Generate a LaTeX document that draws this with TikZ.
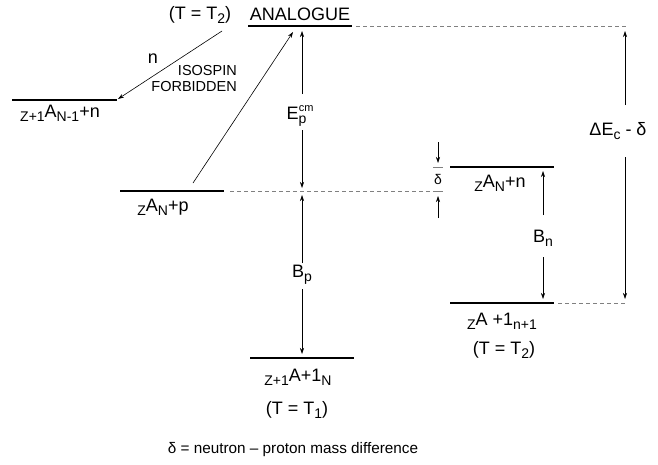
\documentclass[tikz,border=0pt]{standalone}
\usepackage{fontspec}
\setmainfont{Liberation Sans}
\usetikzlibrary{arrows.meta}
\newcommand{\lsub}[1]{\raisebox{-0.45ex}{\fontsize{14}{14}\selectfont #1}}
\newcommand{\lsup}[1]{\raisebox{0.9ex}{\fontsize{11}{11}\selectfont #1}}
\begin{document}
\begin{tikzpicture}[x=1pt,y=-1pt,
  level/.style={line width=2pt},
  dashline/.style={gray, line width=0.7pt, dash pattern=on 4pt off 3pt},
  arr/.style={line width=0.6pt, -{Stealth[length=6pt,width=4pt]}},
  lbl/.style={font=\fontsize{18}{20}\selectfont, inner sep=1pt},
  small/.style={font=\fontsize{14}{17}\selectfont, inner sep=1pt}]
\useasboundingbox (0,0) rectangle (658,464);
% levels
\coordinate (anL) at (248,26);  \coordinate (anR) at (352,26);
\coordinate (lfL) at (12,100);  \coordinate (lfR) at (117,100);
\coordinate (pL) at (120,191);  \coordinate (pR) at (224,191);
\coordinate (gL) at (250,358);  \coordinate (gR) at (354,358);
\coordinate (nL) at (450,167);  \coordinate (nR) at (554,167);
\coordinate (hL) at (450,303);  \coordinate (hR) at (554,303);
\draw[level] (anL) -- (anR);
\draw[level] (lfL) -- (lfR);
\draw[level] (pL) -- (pR);
\draw[level] (gL) -- (gR);
\draw[level] (nL) -- (nR);
\draw[level] (hL) -- (hR);
% dashed extensions
\coordinate (anD1) at (356,26); \coordinate (anD2) at (628,26);
\coordinate (pD1) at (230,191); \coordinate (pD2) at (433,191);
\coordinate (hD1) at (558,303); \coordinate (hD2) at (626,303);
\draw[dashline] (anD1) -- (anD2);
\draw[dashline] (pD1) -- (pD2);
\draw[dashline] (hD1) -- (hD2);
% delta marks
\coordinate (dt1) at (433,167); \coordinate (dt2) at (443,167);
\coordinate (db1) at (433,191); \coordinate (db2) at (443,191);
\draw[gray, line width=1pt] (dt1) -- (dt2);
\draw[gray, line width=1pt] (db1) -- (db2);
\node[small] (delta) at (438,179) {δ};
\coordinate (da1) at (438,142); \coordinate (da2) at (438,163);
\coordinate (ua1) at (438,218); \coordinate (ua2) at (438,196);
\draw[arr] (da1) -- (da2);
\draw[arr] (ua1) -- (ua2);
% labels
\node[lbl] (tt2) at (200,15) {(T = T\lsub{2})};
\node[lbl] (analogue) at (300,14) {ANALOGUE};
\node[lbl] (nlab) at (153,59) {n};
\node[small, align=right, anchor=east, font=\fontsize{14.5}{16}\selectfont] (iso) at (238,79) {ISOSPIN\\FORBIDDEN};
\node[lbl] (lfT) at (60,113) {\lsub{Z+1}A\lsub{N-1}+n};
\node[lbl] (pT) at (163,207) {\lsub{Z}A\lsub{N}+p};
\node[lbl] (gT) at (298,377) {\lsub{Z+1}A+1\lsub{N}};
\node[lbl] (gT2) at (297,410) {(T = T\lsub{1})};
\node[lbl] (nT) at (500,183) {\lsub{Z}A\lsub{N}+n};
\node[lbl] (hT) at (502,321) {\lsub{Z}A +1\lsub{n+1}};
\node[lbl] (hT2) at (504,350) {(T = T\lsub{2})};
\node[small, font=\fontsize{15.3}{18}\selectfont] (foot) at (293,450) {δ = neutron – proton mass difference};
% transitions
\coordinate (s1) at (222,31); \coordinate (e1) at (118,99);
\draw[arr] (s1) -- (e1);
\coordinate (s2) at (193,183); \coordinate (e2) at (293,32);
\draw[arr] (s2) -- (e2);
% vertical energy arrows
\node[lbl] (ecm) at (300,116) {E\lsub{p}\hspace{-7.5pt}\lsup{cm}};
\coordinate (ecT) at (302,31); \coordinate (ecB) at (302,188);
\coordinate (ecG1) at (302,94); \coordinate (ecG2) at (302,130);
\draw[arr] (ecG1) -- (ecT);
\draw[arr] (ecG2) -- (ecB);
\node[lbl] (bp) at (302,275) {B\lsub{p}};
\coordinate (bpT) at (302,195); \coordinate (bpB) at (302,354);
\coordinate (bpG1) at (302,263); \coordinate (bpG2) at (302,289);
\draw[arr] (bpG1) -- (bpT);
\draw[arr] (bpG2) -- (bpB);
\node[lbl] (bn) at (543,238) {B\lsub{n}};
\coordinate (bnT) at (543,171); \coordinate (bnB) at (543,299);
\coordinate (bnG1) at (543,215); \coordinate (bnG2) at (543,257);
\draw[arr] (bnG1) -- (bnT);
\draw[arr] (bnG2) -- (bnB);
\node[lbl] (de) at (618,131) {ΔE\lsub{c} - δ};
\coordinate (deT) at (625,31); \coordinate (deB) at (625,299);
\coordinate (deG1) at (625,105); \coordinate (deG2) at (625,157);
\draw[arr] (deG1) -- (deT);
\draw[arr] (deG2) -- (deB);
\end{tikzpicture}
\end{document}
